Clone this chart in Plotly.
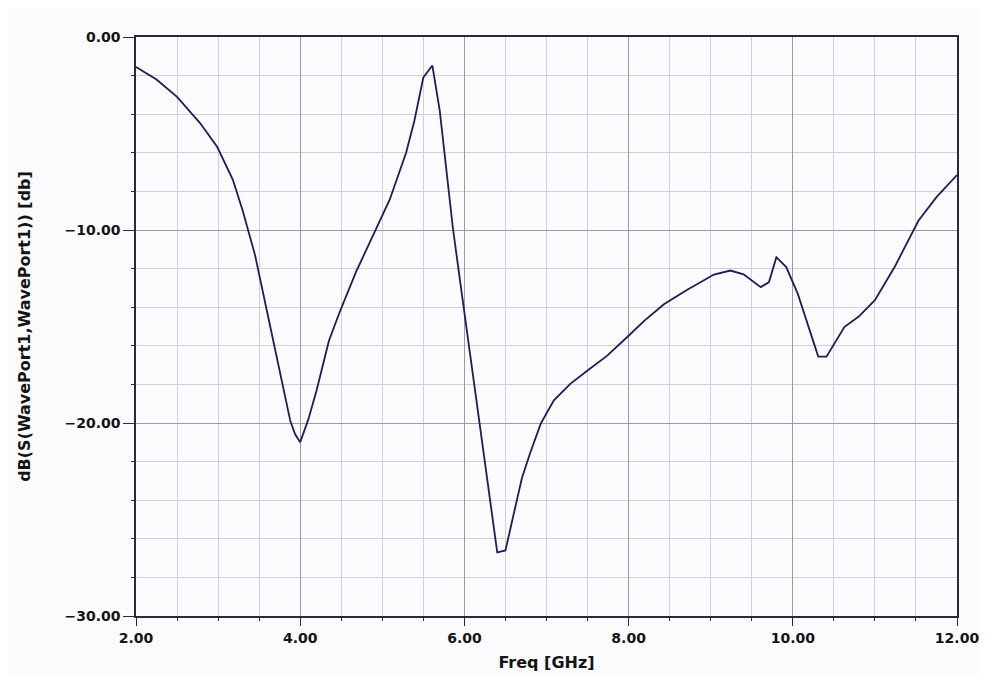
import plotly.graph_objects as go

freq_ghz = [2.0, 2.25, 2.5, 2.78, 2.99, 3.18, 3.3, 3.45, 3.6, 3.8, 3.88, 3.94, 4.0, 4.1,
            4.2, 4.35, 4.48, 4.68, 4.91, 5.09, 5.29, 5.39, 5.5, 5.61, 5.7, 5.78, 5.86,
            5.96, 6.04, 6.2, 6.4, 6.5, 6.6, 6.7, 6.8, 6.93, 7.09, 7.29, 7.5, 7.74, 8.0,
            8.19, 8.43, 8.72, 9.04, 9.24, 9.4, 9.5, 9.61, 9.71, 9.8, 9.92, 10.06, 10.31,
            10.41, 10.63, 10.8, 11.0, 11.24, 11.53, 11.75, 12.0]
s11_db = [-1.55, -2.2, -3.1, -4.46, -5.7, -7.4, -9.0, -11.3, -14.3, -18.2, -19.9, -20.6, -21.0, -19.8,
          -18.3, -15.74, -14.26, -12.17, -10.09, -8.43, -6.0, -4.35, -2.09, -1.48, -3.83, -6.78, -9.91,
          -13.04, -15.48, -20.6, -26.7, -26.6, -24.8, -22.86, -21.57, -20.03, -18.83, -17.97, -17.28, -16.51, -15.48,
          -14.71, -13.85, -13.08, -12.31, -12.1, -12.3, -12.6, -12.96, -12.7, -11.41, -11.92, -13.3, -16.56,
          -16.56, -15.02, -14.5, -13.64, -11.92, -9.52, -8.3, -7.15]

x_ticks = [2, 4, 6, 8, 10, 12]
y_ticks = [0, -10, -20, -30]

font_family = "DejaVu Sans"
text_color = "#141414"
axis_color = "#2a2a3a"
major_grid = "#9a98aa"
minor_grid = "#cfd0d8"

fig = go.Figure()
fig.add_trace(go.Scatter(
    x=freq_ghz, y=s11_db, mode="lines",
    line=dict(color="#1c1c5e", width=1.8),
    showlegend=False,
))

axis_common = dict(
    showline=True, linecolor=axis_color, linewidth=1.5, mirror=True,
    showgrid=True, gridcolor=major_grid, gridwidth=1,
    zeroline=False,
    ticks="outside", tickcolor=axis_color, tickwidth=1,
    tickformat=".2f",
    tickfont=dict(family=font_family, size=14, color=text_color, weight="bold"),
)

fig.update_xaxes(
    range=[2, 12], tickvals=x_ticks, ticklen=8,
    minor=dict(dtick=0.5, showgrid=True, gridcolor=minor_grid, ticks="outside",
               ticklen=3, tickcolor=axis_color),
    title=dict(text="Freq [GHz]", standoff=12,
               font=dict(family=font_family, size=16, color=text_color, weight="bold")),
    **axis_common,
)
fig.update_yaxes(
    range=[-30, 0], tickvals=y_ticks, ticklen=11,
    minor=dict(dtick=2, showgrid=True, gridcolor=minor_grid, ticks="outside",
               ticklen=3, tickcolor=axis_color),
    title=dict(text="dB(S(WavePort1,WavePort1)) [db]", standoff=30,
               font=dict(family=font_family, size=16, color=text_color, weight="bold")),
    **axis_common,
)

fig.update_layout(
    width=980, height=666,
    margin=dict(l=128, r=31, t=29, b=58, autoexpand=False),
    paper_bgcolor="#fbfbfd", plot_bgcolor="#fbfbfd",
)

fig.write_html("out.html")
